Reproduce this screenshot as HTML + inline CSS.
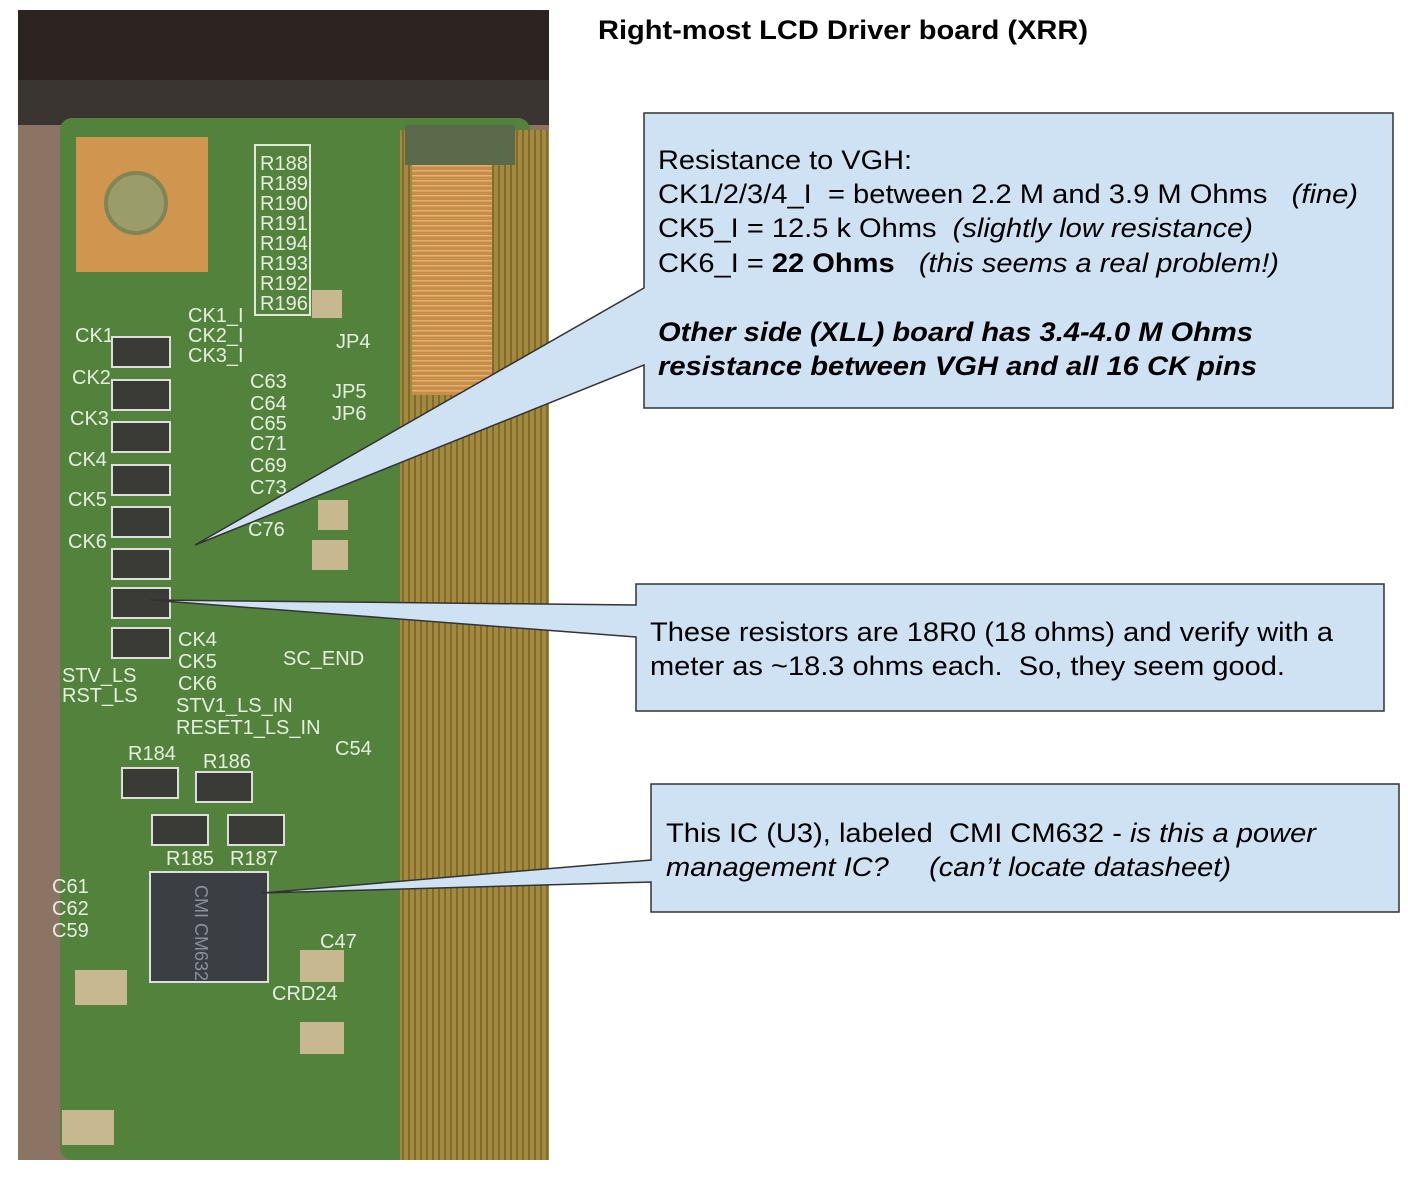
<!DOCTYPE html>
<html><head><meta charset="utf-8"><style>
body{margin:0;background:#fff;width:1408px;height:1196px;overflow:hidden;font-family:"Liberation Sans",sans-serif}
text{white-space:pre}
</style></head><body>
<svg width="1408" height="1196" xmlns="http://www.w3.org/2000/svg" font-family="Liberation Sans, sans-serif" xml:space="preserve">
<defs>
<pattern id="st" width="6" height="6" patternUnits="userSpaceOnUse"><rect width="6" height="6" fill="#a48a3e"/><rect width="2" height="6" fill="#7f6b2c"/></pattern>
<pattern id="st2" width="8" height="5" patternUnits="userSpaceOnUse"><rect width="8" height="5" fill="#c98d4a"/><rect width="8" height="1.5" fill="#e0b070"/></pattern>
</defs>
<rect x="18" y="10" width="531" height="1150" fill="#8c7464"/>
<rect x="18" y="10" width="531" height="110" fill="#2b2420"/>
<rect x="18" y="80" width="531" height="45" fill="#3a3530"/>
<rect x="60" y="118" width="470" height="1042" rx="12" fill="#52823c"/>
<rect x="400" y="130" width="149" height="1030" fill="url(#st)"/>
<rect x="412" y="165" width="80" height="230" fill="url(#st2)"/>
<rect x="405" y="125" width="110" height="40" fill="#5a6a4a"/>
<rect x="76" y="137" width="132" height="135" fill="#d0954f"/>
<circle cx="136" cy="203" r="30" fill="#9a9c6a" stroke="#7f8556" stroke-width="4"/>
<rect x="255" y="145" width="55" height="170" fill="none" stroke="#dfe8d8" stroke-width="2"/>
<g fill="#e6eee0" font-size="20">
<text x="260" y="170">R188</text><text x="260" y="190">R189</text><text x="260" y="210">R190</text><text x="260" y="230">R191</text><text x="260" y="250">R194</text><text x="260" y="270">R193</text><text x="260" y="290">R192</text><text x="260" y="310">R196</text>
<text x="188" y="322">CK1_I</text><text x="188" y="342">CK2_I</text><text x="188" y="362">CK3_I</text>
<text x="75" y="342">CK1</text><text x="72" y="384">CK2</text><text x="70" y="425">CK3</text><text x="68" y="466">CK4</text><text x="68" y="506">CK5</text><text x="68" y="548">CK6</text>
<text x="62" y="682">STV_LS</text><text x="62" y="702">RST_LS</text>
<text x="178" y="646">CK4</text><text x="178" y="668">CK5</text><text x="178" y="690">CK6</text>
<text x="176" y="712">STV1_LS_IN</text><text x="176" y="734">RESET1_LS_IN</text>
<text x="283" y="665">SC_END</text>
<text x="128" y="760">R184</text><text x="203" y="768">R186</text><text x="166" y="865">R185</text><text x="230" y="865">R187</text>
<text x="52" y="893">C61</text><text x="52" y="915">C62</text><text x="52" y="937">C59</text>
<text x="320" y="948">C47</text><text x="272" y="1000">CRD24</text>
<text x="336" y="348">JP4</text><text x="332" y="398">JP5</text><text x="332" y="420">JP6</text>
<text x="250" y="388">C63</text><text x="250" y="410">C64</text><text x="250" y="430">C65</text><text x="250" y="450">C71</text><text x="250" y="472">C69</text><text x="250" y="494">C73</text><text x="248" y="536">C76</text>
<text x="335" y="755">C54</text>
</g>
<g fill="#3a3a36" stroke="#ddd" stroke-width="2">
<rect x="112" y="337" width="58" height="30"/><rect x="112" y="380" width="58" height="30"/><rect x="112" y="422" width="58" height="30"/><rect x="112" y="465" width="58" height="30"/><rect x="112" y="507" width="58" height="30"/><rect x="112" y="549" width="58" height="30"/><rect x="112" y="588" width="58" height="30"/><rect x="112" y="628" width="58" height="30"/>
<rect x="122" y="768" width="56" height="30"/><rect x="196" y="772" width="56" height="30"/><rect x="152" y="815" width="56" height="30"/><rect x="228" y="815" width="56" height="30"/>
</g>
<rect x="150" y="872" width="118" height="110" fill="#3b3f44" stroke="#ddd" stroke-width="2"/>
<text x="195" y="885" fill="#8a9099" font-size="18" transform="rotate(90 195 885)">CMI CM632</text>
<g fill="#c8b890"><rect x="312" y="290" width="30" height="28"/><rect x="318" y="500" width="30" height="30"/><rect x="312" y="540" width="36" height="30"/><rect x="300" y="950" width="44" height="32"/><rect x="300" y="1022" width="44" height="32"/><rect x="75" y="970" width="52" height="35"/><rect x="62" y="1110" width="52" height="35"/></g>
<text x="598" y="39" font-size="27" font-weight="bold" fill="#000" textLength="490" lengthAdjust="spacingAndGlyphs">Right-most LCD Driver board (XRR)</text>
<polygon points="644,113 1393,113 1393,408 644,408 644,365 195,545 644,288" fill="#cfe2f3" stroke="#333" stroke-width="1.5"/>
<g font-size="27" fill="#000">
<text x="658" y="169" textLength="254" lengthAdjust="spacingAndGlyphs">Resistance to VGH:</text>
<text x="658" y="203" textLength="700" lengthAdjust="spacingAndGlyphs">CK1/2/3/4_I  = between 2.2 M and 3.9 M Ohms   <tspan font-style="italic">(fine)</tspan></text>
<text x="658" y="237" textLength="595" lengthAdjust="spacingAndGlyphs">CK5_I = 12.5 k Ohms  <tspan font-style="italic">(slightly low resistance)</tspan></text>
<text x="658" y="272" textLength="621" lengthAdjust="spacingAndGlyphs">CK6_I = <tspan font-weight="bold">22 Ohms</tspan>   <tspan font-style="italic">(this seems a real problem!)</tspan></text>
<text x="658" y="341" font-weight="bold" font-style="italic" textLength="595" lengthAdjust="spacingAndGlyphs">Other side (XLL) board has 3.4-4.0 M Ohms</text>
<text x="658" y="375" font-weight="bold" font-style="italic" textLength="599" lengthAdjust="spacingAndGlyphs">resistance between VGH and all 16 CK pins</text>
</g>
<polygon points="636,584 1384,584 1384,711 636,711 636,637 150,600 636,605" fill="#cfe2f3" stroke="#333" stroke-width="1.5"/>
<g font-size="27" fill="#000">
<text x="650" y="641" textLength="683" lengthAdjust="spacingAndGlyphs">These resistors are 18R0 (18 ohms) and verify with a</text>
<text x="650" y="675" textLength="635" lengthAdjust="spacingAndGlyphs">meter as ~18.3 ohms each.  So, they seem good.</text>
</g>
<polygon points="651,784 1399,784 1399,912 651,912 651,882 262,893 651,860" fill="#cfe2f3" stroke="#333" stroke-width="1.5"/>
<g font-size="27" fill="#000">
<text x="666" y="842" textLength="650" lengthAdjust="spacingAndGlyphs">This IC (U3), labeled  CMI CM632 - <tspan font-style="italic">is this a power</tspan></text>
<text x="666" y="876" font-style="italic" textLength="565" lengthAdjust="spacingAndGlyphs">management IC?     (can’t locate datasheet)</text>
</g>
</svg>
</body></html>
